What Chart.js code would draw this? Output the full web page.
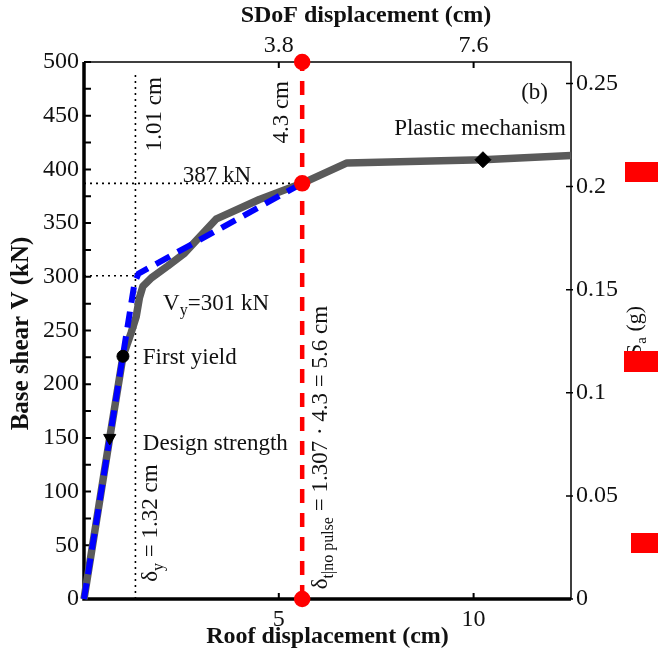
<!DOCTYPE html>
<html><head><meta charset="utf-8">
<script src="https://cdn.jsdelivr.net/npm/chart.js@4.4.0/dist/chart.umd.min.js"></script>
<style>html,body{margin:0;padding:0;background:#fff;}canvas{display:block;}</style>
</head><body>
<canvas id="c" width="658" height="653"></canvas>
<script>
// ---- data ----
const pushoverX = [0, 0.66, 1.0, 1.21, 1.34, 1.42, 1.51, 1.73, 2.15, 2.58, 3.4, 4.5, 5.6, 6.75, 10.24, 12.5];
const pushoverV = [0, 150, 226, 248, 263, 280, 291, 299, 310, 322, 354, 372, 387, 406, 409, 413];
const idealX = [0, 1.3, 1.4, 5.6];
const idealV = [0, 295, 303, 387];
const targetX = [5.6, 5.6, 5.6];
const targetV = [0, 387, 500];
const designX = [0.66], designV = [150];
const firstYieldX = [1.0], firstYieldV = [226];
const mechanismX = [10.24], mechanismV = [409];
const yieldDispX = [1.32, 1.32], yieldDispV = [0, 490];
const yieldShearX = [0, 1.32], yieldShearV = [301, 301];
const targetShearX = [0, 5.6], targetShearV = [387, 387];
const xTicks = [5, 10];
const xTickLabels = ['5', '10'];
const topTickLabels = ['3.8', '7.6'];
const yTicks = [0, 50, 100, 150, 200, 250, 300, 350, 400, 450, 500];
const yMinorTicks = [25, 75, 125, 175, 225, 275, 325, 375, 425, 475];
const saTicks = [0, 0.05, 0.1, 0.15, 0.2, 0.25];
const saTickLabels = ['0', '0.05', '0.1', '0.15', '0.2', '0.25'];
const xMax = 12.5, vMax = 500, saMax = 0.2604;

const serif = "'Liberation Serif','Times New Roman',serif";
const pts = (xs, ys) => xs.map((x, i) => ({x: x, y: ys[i]}));

function drawRuns(ctx, parts, x, y, size, bold) {
  let cx = x;
  for (const p of parts) {
    const fs = p.sub ? Math.round(size * 0.7) : size;
    ctx.font = (bold ? 'bold ' : '') + fs + 'px ' + serif;
    ctx.fillText(p.t, cx, y + (p.sub ? size * 0.33 : 0));
    cx += ctx.measureText(p.t).width;
  }
  return cx - x;
}
function drawRotRuns(ctx, parts, x, y, size, bold) {
  ctx.save();
  ctx.translate(x, y);
  ctx.rotate(-Math.PI / 2);
  ctx.textAlign = 'left';
  ctx.textBaseline = 'middle';
  drawRuns(ctx, parts, 0, 0, size, bold);
  ctx.restore();
}

const framePlugin = {
  id: 'frame',
  beforeDatasetsDraw(chart) {
    const {ctx, chartArea: a, scales} = chart;
    ctx.save();
    ctx.strokeStyle = '#000';
    ctx.lineWidth = 1.5;
    ctx.beginPath(); ctx.moveTo(a.left, a.top); ctx.lineTo(a.right, a.top); ctx.lineTo(a.right, a.bottom); ctx.stroke();
    ctx.lineWidth = 3.5;
    ctx.beginPath(); ctx.moveTo(a.left, a.top); ctx.lineTo(a.left, a.bottom); ctx.lineTo(a.right, a.bottom); ctx.stroke();
    ctx.lineWidth = 2;
    ctx.beginPath();
    for (const v of yTicks.concat(yMinorTicks)) {
      const y = scales.y.getPixelForValue(v);
      ctx.moveTo(a.left, y); ctx.lineTo(a.left + 7, y);
    }
    for (const v of xTicks) {
      const x = scales.x.getPixelForValue(v);
      ctx.moveTo(x, a.bottom); ctx.lineTo(x, a.bottom - 6);
      ctx.moveTo(x, a.top); ctx.lineTo(x, a.top + 6);
    }
    ctx.stroke();
    ctx.lineWidth = 1.5;
    ctx.beginPath();
    for (const v of saTicks) {
      const y = scales.y2.getPixelForValue(v);
      ctx.moveTo(a.right - 5, y); ctx.lineTo(a.right + 2, y);
    }
    ctx.stroke();
    ctx.restore();
  }
};

const textPlugin = {
  id: 'texts',
  afterDraw(chart) {
    const {ctx, chartArea: a, scales} = chart;
    const px = v => scales.x.getPixelForValue(v);
    const py = v => scales.y.getPixelForValue(v);
    ctx.save();
    ctx.fillStyle = '#111';
    const S = 23;
    // titles
    ctx.textBaseline = 'middle';
    ctx.textAlign = 'center';
    ctx.font = 'bold 24px ' + serif;
    ctx.fillText('SDoF displacement (cm)', 366, 16);
    ctx.fillText('Roof displacement (cm)', (a.left + a.right) / 2, 637);
    ctx.save();
    ctx.translate(22, (a.top + a.bottom) / 2 + 3);
    ctx.rotate(-Math.PI / 2);
    ctx.font = 'bold 25px ' + serif;
    ctx.fillText('Base shear V (kN)', 0, 0);
    ctx.restore();
    // right axis title
    drawRotRuns(ctx, [{t: 'S'}, {t: 'a', sub: true}, {t: ' (g)'}], a.right + 64, 356, 22, false);

    // annotations
    ctx.font = S + 'px ' + serif;
    ctx.textAlign = 'center';
    ctx.textBaseline = 'alphabetic';
    ctx.fillText('387 kN', px(3.41), py(387) - 1.5);
    ctx.textAlign = 'right';
    ctx.textBaseline = 'middle';
    ctx.fillText('(b)', a.right - 23, py(471));
    ctx.fillText('Plastic mechanism', a.right - 5, py(438));
    ctx.textAlign = 'left';
    drawRuns(ctx, [{t: 'V'}, {t: 'y', sub: true}, {t: '=301 kN'}], px(2.03), py(275), S, false);
    ctx.font = S + 'px ' + serif;
    ctx.fillText('First yield', px(1.51), py(224));
    ctx.fillText('Design strength', px(1.51), py(144));
    // rotated annotations
    drawRotRuns(ctx, [{t: '1.01 cm'}], px(1.32) + 20, py(417), S, false);
    drawRotRuns(ctx, [{t: '4.3 cm'}], px(5.6) - 20, py(424), S, false);
    drawRotRuns(ctx, [{t: 'δ'}, {t: 'y', sub: true}, {t: ' = 1.32 cm'}], px(1.32) + 16, py(16), S, false);
    drawRotRuns(ctx, [{t: 'δ'}, {t: 't|no pulse', sub: true}, {t: ' = 1.307 · 4.3 = 5.6 cm'}], px(5.6) + 19, py(9), S, false);
    // red marks at the right border of the figure
    ctx.fillStyle = '#ff0000';
    ctx.fillRect(625, 162, 33, 20);
    ctx.fillRect(624, 351, 34, 21);
    ctx.fillRect(631, 533, 27, 20);
    ctx.restore();
  }
};

const tickFont = {family: serif, size: 24};
new Chart(document.getElementById('c'), {
  type: 'scatter',
  data: {
    datasets: [
      {data: pts(yieldDispX, yieldDispV), showLine: true, borderColor: '#000', borderWidth: 1.6, borderDash: [2, 4], pointRadius: 0, order: 20, clip: false},
      {data: pts(yieldShearX, yieldShearV), showLine: true, borderColor: '#000', borderWidth: 1.6, borderDash: [2, 4], pointRadius: 0, order: 20, clip: false},
      {data: pts(targetShearX, targetShearV), showLine: true, borderColor: '#000', borderWidth: 1.6, borderDash: [2, 4], pointRadius: 0, order: 20, clip: false},
      {data: pts(pushoverX, pushoverV), showLine: true, borderColor: '#5a5a5a', borderWidth: 7.5, borderJoinStyle: 'round', pointRadius: 0, order: 15, clip: false},
      {data: pts(idealX, idealV), showLine: true, borderColor: '#0000ff', borderWidth: 6, borderDash: [16, 9], pointRadius: 0, order: 12, clip: false},
      {data: pts(targetX, targetV), showLine: true, borderColor: '#ff0000', borderWidth: 4.5, borderDash: [14, 10], pointRadius: 6, pointBackgroundColor: '#ff0000', pointBorderColor: '#ff0000', order: 10, clip: false},
      {data: pts(designX, designV), pointStyle: 'triangle', rotation: 180, pointRadius: 7, pointBackgroundColor: '#000', pointBorderColor: '#000', order: 1},
      {data: pts(firstYieldX, firstYieldV), pointStyle: 'circle', pointRadius: 6, pointBackgroundColor: '#000', pointBorderColor: '#000', order: 1},
      {data: pts(mechanismX, mechanismV), pointStyle: 'rectRot', pointRadius: 8, pointBackgroundColor: '#000', pointBorderColor: '#000', order: 1}
    ]
  },
  options: {
    responsive: false, animation: false, devicePixelRatio: 1, events: [],
    layout: {padding: 0},
    plugins: {legend: {display: false}, tooltip: {enabled: false}},
    scales: {
      x: {type: 'linear', position: 'bottom', min: 0, max: xMax,
        afterBuildTicks: s => { s.ticks = xTicks.map(v => ({value: v})); },
        afterFit: s => { s.height = 54; },
        grid: {display: false, drawTicks: false}, border: {display: false},
        ticks: {font: tickFont, color: '#111', padding: 6, maxRotation: 0, autoSkip: false, callback: (v, i) => xTickLabels[i]}},
      x2: {type: 'linear', position: 'top', min: 0, max: xMax,
        afterBuildTicks: s => { s.ticks = xTicks.map(v => ({value: v})); },
        afterFit: s => { s.height = 62; },
        grid: {display: false, drawTicks: false}, border: {display: false},
        ticks: {font: tickFont, color: '#111', padding: 2, maxRotation: 0, autoSkip: false, callback: (v, i) => topTickLabels[i]}},
      y: {type: 'linear', position: 'left', min: 0, max: vMax,
        afterBuildTicks: s => { s.ticks = yTicks.map(v => ({value: v})); },
        afterFit: s => { s.width = 84; },
        grid: {display: false, drawTicks: false}, border: {display: false},
        ticks: {font: tickFont, color: '#111', padding: 5, autoSkip: false}},
      y2: {type: 'linear', position: 'right', min: 0, max: saMax,
        afterBuildTicks: s => { s.ticks = saTicks.map(v => ({value: v})); },
        afterFit: s => { s.width = 87; },
        grid: {display: false, drawTicks: false}, border: {display: false},
        ticks: {font: tickFont, color: '#111', padding: 5, autoSkip: false, callback: (v, i) => saTickLabels[i]}}
    }
  },
  plugins: [framePlugin, textPlugin]
});
</script>
</body></html>
